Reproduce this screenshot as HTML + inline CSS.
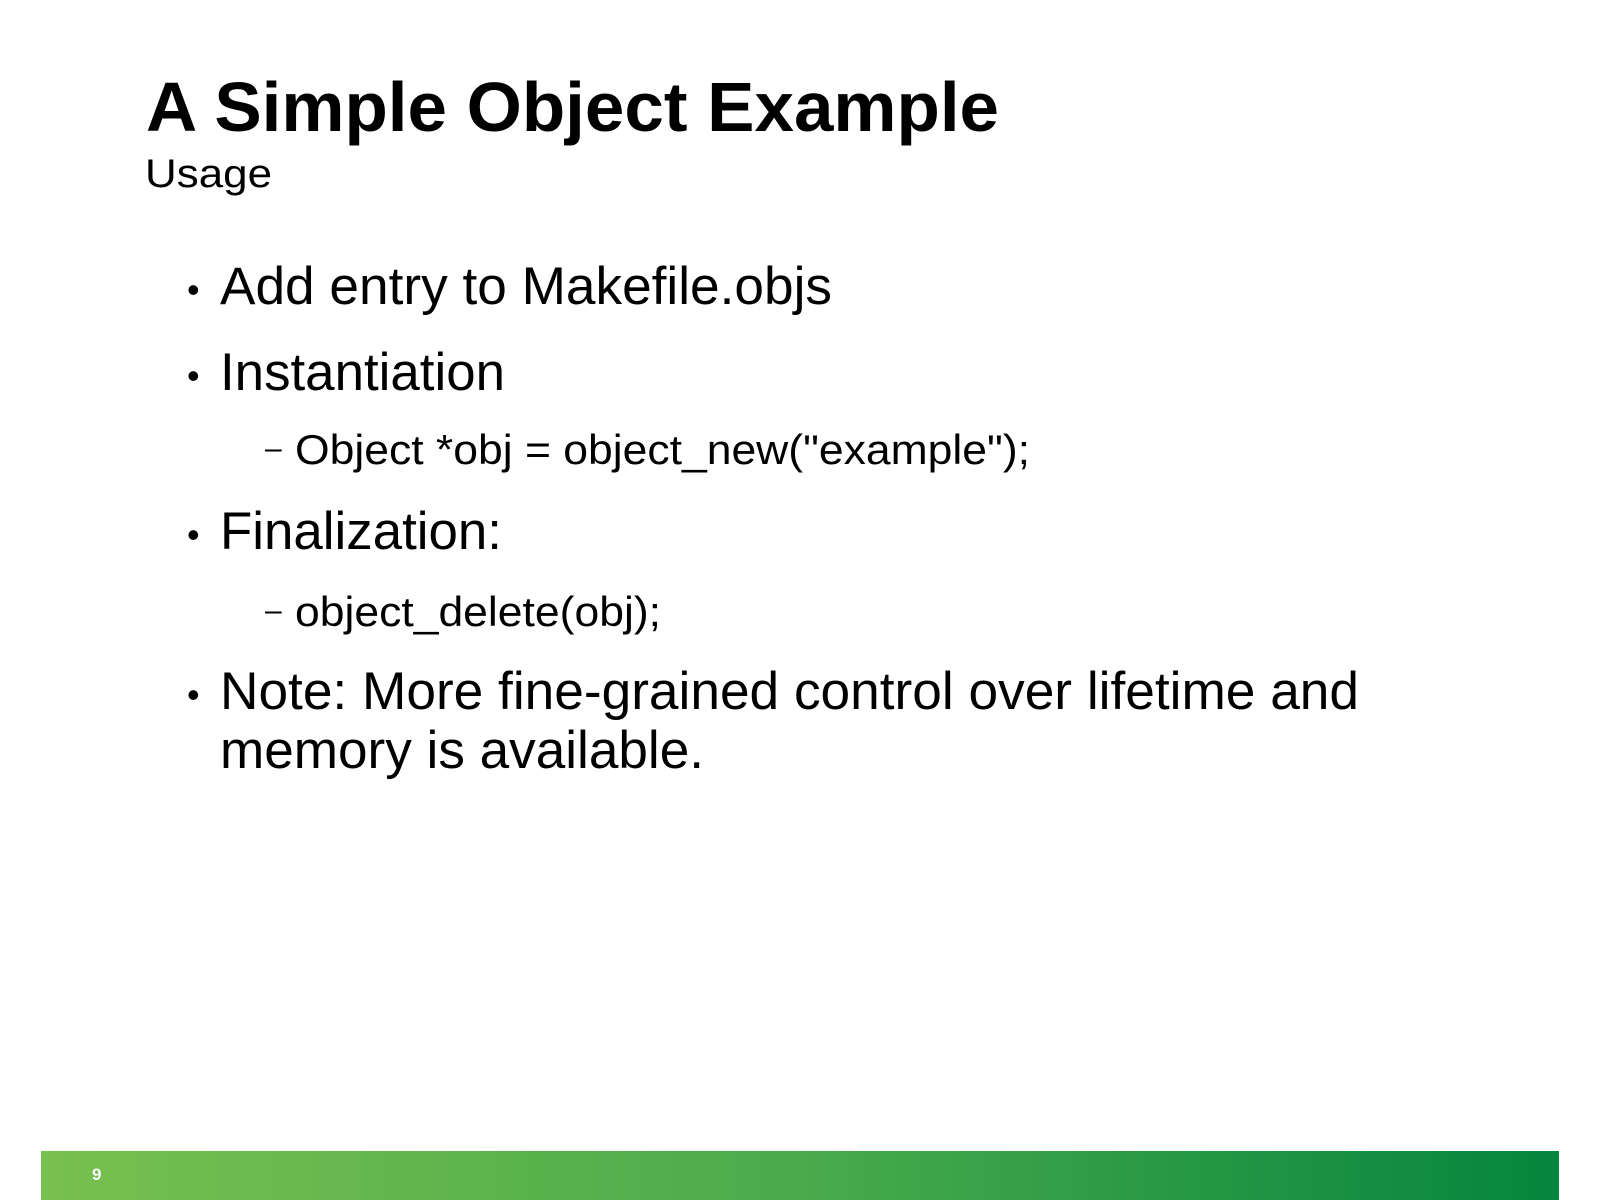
<!DOCTYPE html>
<html><head><meta charset="utf-8"><style>
html,body{margin:0;padding:0;background:#fff;}
svg{display:block}
text{font-family:"Liberation Sans",Arial,sans-serif;fill:#000}
</style></head><body>
<svg width="1600" height="1200" viewBox="0 0 1600 1200" xmlns="http://www.w3.org/2000/svg">
<defs>
<linearGradient id="g" x1="0" x2="1" y1="0" y2="0">
<stop offset="0" stop-color="#78c04f"/>
<stop offset="0.5" stop-color="#4aab4c"/>
<stop offset="1" stop-color="#05853e"/>
</linearGradient>
</defs>
<rect x="0" y="0" width="1600" height="1200" fill="#fff"/>
<text x="146" y="131" font-size="70" font-weight="bold" textLength="853" lengthAdjust="spacingAndGlyphs">A Simple Object Example</text>
<text x="145" y="187" font-size="40" textLength="127" lengthAdjust="spacingAndGlyphs">Usage</text>

<g font-size="53">
<text x="187" y="302" font-size="36">•</text>
<text x="220" y="304" textLength="612" lengthAdjust="spacingAndGlyphs">Add entry to Makefile.objs</text>
<text x="187" y="388" font-size="36">•</text>
<text x="220" y="390" textLength="285" lengthAdjust="spacingAndGlyphs">Instantiation</text>
<text x="187" y="547" font-size="36">•</text>
<text x="220" y="549" textLength="282" lengthAdjust="spacingAndGlyphs">Finalization:</text>
<text x="187" y="707" font-size="36">•</text>
<text x="220" y="709" textLength="1139" lengthAdjust="spacingAndGlyphs">Note: More fine-grained control over lifetime and</text>
<text x="220" y="768" textLength="484" lengthAdjust="spacingAndGlyphs">memory is available.</text>
</g>
<g font-size="42">
<text x="265" y="458" font-size="30">–</text>
<text x="295" y="464" textLength="735" lengthAdjust="spacingAndGlyphs">Object *obj = object_new("example");</text>
<text x="265" y="620" font-size="30">–</text>
<text x="295" y="626" textLength="366" lengthAdjust="spacingAndGlyphs">object_delete(obj);</text>
</g>

<rect x="41" y="1151" width="1518" height="49" fill="url(#g)"/>
<text x="92" y="1180" font-size="17" font-weight="bold" style="fill:#fff">9</text>
</svg>
</body></html>
